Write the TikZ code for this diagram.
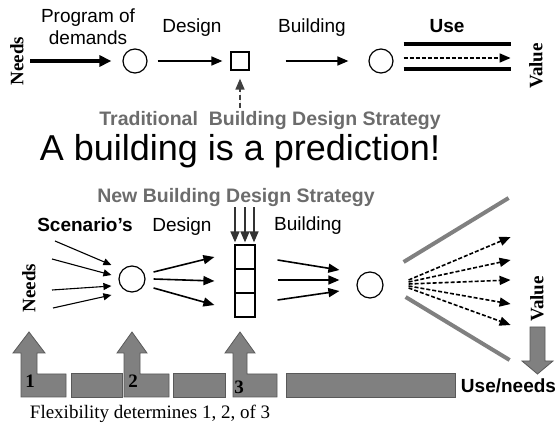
\documentclass[tikz,border=0pt]{standalone}
\usepackage{fontspec}
\setmainfont{Liberation Serif}
\setsansfont{Liberation Sans}
\usetikzlibrary{arrows.meta}
\definecolor{blockgray}{RGB}{128,128,128}
\definecolor{labelgray}{RGB}{108,108,108}
\begin{document}
\begin{tikzpicture}[x=1pt,y=-1pt,
  lbl/.style={font=\sffamily\fontsize{19}{22}\selectfont, anchor=base, inner sep=0pt},
  boldlbl/.style={lbl, font=\sffamily\bfseries\fontsize{19}{22}\selectfont},
  side/.style={font=\rmfamily\bfseries\fontsize{19}{22}\selectfont, rotate=90, inner sep=0pt},
  strategy/.style={font=\sffamily\bfseries\fontsize{19.5}{22}\selectfont, text=labelgray, anchor=base, inner sep=0pt},
  num/.style={font=\rmfamily\bfseries\fontsize{19}{22}\selectfont, inner sep=0pt},
  ring/.style={draw, circle, line width=1.2pt, inner sep=0pt, minimum size=24pt},
  cell/.style={draw, line width=1.2pt, inner sep=0pt, minimum width=20pt, minimum height=24pt},
  flow/.style={line width=1.6pt, -{Triangle[length=11pt,width=9pt]}},
  thinflow/.style={line width=1.1pt, -{Triangle[length=8pt,width=7pt]}},
  heavy/.style={line width=3.5pt, -{Triangle[length=12pt,width=11pt]}},
  dflow/.style={flow, dash pattern=on 4pt off 2pt},
  band/.style={line width=4pt},
  rim/.style={line width=4pt, draw=blockgray},
  block/.style={fill=blockgray, draw=black!65, line width=0.8pt}]
\useasboundingbox (0,0) rectangle (558,425);
% traditional strategy
\node[side] (needsTop) at (17,61) {Needs};
\coordinate (pdIn) at (30,61);
\node[ring] (pod) at (135,61) {};
\node[draw, line width=1.2pt, minimum size=18pt, inner sep=0pt] (sketch) at (240,61) {};
\node[ring] (built) at (381,61) {};
\draw[heavy] (pdIn) -- ([xshift=-11pt]pod.west);
\draw[flow] ([xshift=10pt]pod.east) -- ([xshift=-8pt]sketch.west);
\draw[flow] ([xshift=36pt]sketch.east) -- ([xshift=-20pt]built.west);
\draw[band] ([shift={(10,-17)}]built.east) -- ++(107,0);
\draw[dflow] ([shift={(10,-3)}]built.east) -- ++(107,0);
\draw[band] ([shift={(10,8)}]built.east) -- ++(107,0);
\node[side] (valueTop) at (536,66) {Value};
\node[lbl, align=center, anchor=center] (podLabel) at (88,27) {Program of\\demands};
\node[lbl] (designTop) at (192,33) {Design};
\node[lbl] (buildTop) at (312,33) {Building};
\node[boldlbl] (useTop) at (447,33) {Use};
\coordinate (tradArrow) at (240,108);
\draw[dflow, draw=black!75, fill=black!75, dash pattern=on 5pt off 3pt] (tradArrow) -- ([yshift=-8pt]sketch.south);
\node[strategy] (tradTitle) at (270,126) {Traditional\ \ Building Design Strategy};
\node[font=\sffamily\fontsize{36}{40}\selectfont, anchor=base, inner sep=0pt] (claim) at (240,161) {A building is a prediction!};
% new strategy
\node[strategy] (newTitle) at (236,203) {New Building Design Strategy};
\node[boldlbl] (scen) at (85,232) {Scenario's};
\node[lbl] (designBot) at (182,232) {Design};
\node[lbl] (buildBot) at (308,231) {Building};
\node[side] (needsBot) at (29,288) {Needs};
\node[ring, minimum size=26pt] (opt) at (132,279) {};
\coordinate (s1) at (55,241);
\coordinate (s2) at (52,259);
\coordinate (s3) at (52,290);
\coordinate (s4) at (53,308);
\draw[thinflow] (s1) -- ([shift={(-7,-14)}]opt.west);
\draw[thinflow] (s2) -- ([shift={(-7,-4)}]opt.west);
\draw[thinflow] (s3) -- ([shift={(-7,7)}]opt.west);
\draw[thinflow] (s4) -- ([shift={(-7,16)}]opt.west);
\node[cell] (cellA) at (245,257) {};
\node[cell] (cellB) at (245,281) {};
\node[cell] (cellC) at (245,305) {};
\draw[flow] ([shift={(8,-7)}]opt.east) -- ([xshift=-20pt]cellA.west);
\draw[flow] ([xshift=8pt]opt.east) -- ([xshift=-20pt]cellB.west);
\draw[flow] ([shift={(8,9)}]opt.east) -- ([xshift=-20pt]cellC.west);
\draw[flow, draw=black!80] ([shift={(-10,-37)}]cellA.north) -- ([shift={(-10,-2)}]cellA.north);
\draw[flow, draw=black!80] ([shift={(0,-37)}]cellA.north) -- ([shift={(0,-2)}]cellA.north);
\draw[flow, draw=black!80] ([shift={(9,-37)}]cellA.north) -- ([shift={(9,-2)}]cellA.north);
\node[ring, minimum size=26pt] (lived) at (370,285) {};
\draw[flow] ([shift={(22,3)}]cellA.east) -- ([shift={(-17,-15)}]lived.west);
\draw[flow] ([shift={(22,-1)}]cellB.east) -- ([shift={(-17,-5)}]lived.west);
\draw[flow] ([shift={(22,-5)}]cellC.east) -- ([shift={(-17,6)}]lived.west);
\draw[dflow] ([shift={(25,-5)}]lived.east) -- ([shift={(127,-48)}]lived.east);
\draw[dflow] ([shift={(25,-3)}]lived.east) -- ([shift={(127,-25)}]lived.east);
\draw[dflow] ([shift={(25,-1)}]lived.east) -- ([shift={(127,-5)}]lived.east);
\draw[dflow] ([shift={(25,1)}]lived.east) -- ([shift={(127,19)}]lived.east);
\draw[dflow] ([shift={(25,3)}]lived.east) -- ([shift={(127,40)}]lived.east);
\draw[rim] ([shift={(20,-23)}]lived.east) -- ++(105,-64);
\draw[rim] ([shift={(22,12)}]lived.east) -- ++(104,63);
\node[side] (valueBot) at (537,299) {Value};
\draw[block] (530,327) -- (545,327) -- (545,361) -- (553,361) -- (537.5,374) -- (522,361) -- (530,361) -- cycle;
\node[boldlbl] (useNeeds) at (508.5,392) {Use/needs};
% flexibility steps
\draw[block] (21,397) -- (21,353) -- (13,353) -- (29,332) -- (45,353) -- (37,353) -- (37,374) -- (66,374) -- (66,397) -- cycle;
\draw[block] (71,373) rectangle (122,397);
\draw[block] (124,397) -- (124,353) -- (117,353) -- (132,332) -- (147,353) -- (140,353) -- (140,374) -- (169,374) -- (169,397) -- cycle;
\draw[block] (173,373) rectangle (225,397);
\draw[block] (233,397) -- (233,353) -- (225,353) -- (240,332) -- (255,353) -- (247,353) -- (247,374) -- (277,374) -- (277,397) -- cycle;
\draw[block] (286,373) rectangle (455,397);
\node[num] (one) at (30,381) {1};
\node[num] (two) at (133,381) {2};
\node[num] (three) at (239,387) {3};
\node[font=\rmfamily\fontsize{19}{22}\selectfont, anchor=base, inner sep=0pt] (flex) at (150,418) {Flexibility determines 1, 2, of 3};
\end{tikzpicture}
\end{document}
